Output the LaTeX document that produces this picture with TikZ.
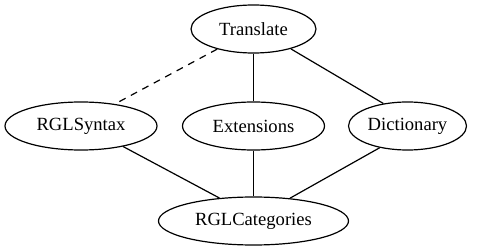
\documentclass[tikz,border=0pt]{standalone}
\usepackage{fontspec}
\setmainfont{Liberation Serif}
\usetikzlibrary{shapes.geometric}
\begin{document}
\begin{tikzpicture}[x=1pt,y=-1pt,
  nd/.style={draw,ellipse,line width=1.2pt,inner sep=0pt,minimum height=48pt,font=\fontsize{18.6}{20}\selectfont},
  edge/.style={line width=1.2pt},
  dashedge/.style={line width=1.2pt,dash pattern=on 7pt off 6pt}]
\useasboundingbox (0,0) rectangle (493,251);
\node[nd,minimum width=125pt] (T) at (253.5,29) {Translate};
\node[nd,minimum width=152pt] (S) at (81,126) {RGLSyntax};
\node[nd,minimum width=142pt] (E) at (253.5,126) {Extensions};
\node[nd,minimum width=118pt] (D) at (407.5,126) {Dictionary};
\node[nd,minimum width=190pt] (C) at (253.5,221) {RGLCategories};
\draw[dashedge] (T.209) -- (S.33);
\draw[edge] (T.south) -- (E.north);
\draw[edge] (T.-28.7) -- (D.137.5);
\draw[edge] (S.-26.8) -- (C.146.9);
\draw[edge] (E.south) -- (C.north);
\draw[edge] (D.218.5) -- (C.32.2);
\end{tikzpicture}
\end{document}
